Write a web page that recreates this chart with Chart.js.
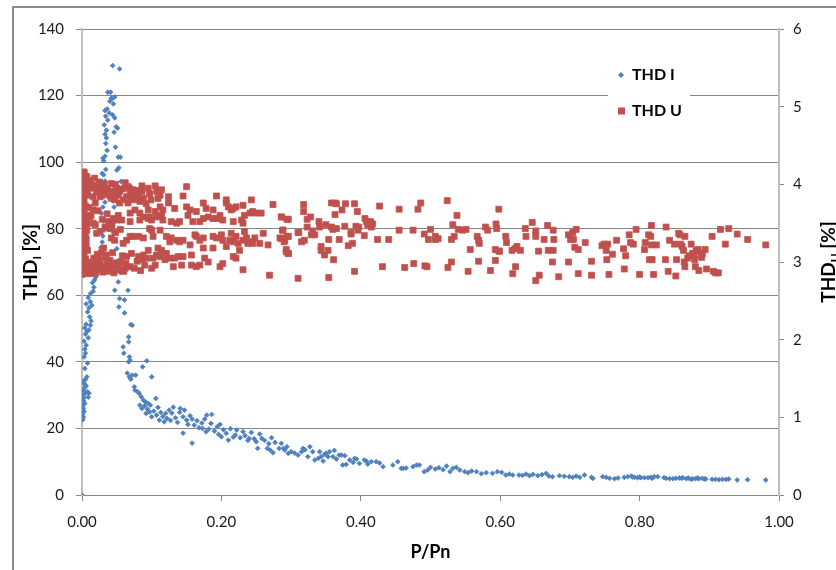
<!DOCTYPE html>
<html lang="en">
<head>
<meta charset="UTF-8">
<title>THD I / THD U vs P/Pn</title>
<script src="https://cdn.jsdelivr.net/npm/chart.js"></script>
<style>
  html, body { margin: 0; padding: 0; background: #fff; }
  #wrap { width: 836px; height: 570px; }
</style>
</head>
<body>
<div id="wrap"><canvas id="chart" width="836" height="570"></canvas></div>
<script>
// axis / legend text
const xTitle = 'P/Pn';
const seriesNames = ['THD I', 'THD U'];
const xTicks = [0, 0.2, 0.4, 0.6, 0.8, 1.0];

// THD I [%] (left axis) : [P/Pn, THD_I]
const thdI = [
  [0,0],
  [0.001,22.6],[0.002,23.4],[0.001,24.3],[0.003,25.1],[0.002,26.0],[0.001,26.8],[0.004,27.5],[0.002,28.3],[0.003,29.2],[0.001,30.1],
  [0.005,30.6],[0.002,31.4],[0.004,32.3],[0.006,32.8],[0.003,33.5],[0.002,34.3],[0.005,34.7],[0.008,31.0],[0.009,29.4],[0.007,35.5],
  [0.010,30.6],[0.004,38.0],[0.008,39.6],[0.003,41.5],[0.005,42.6],[0.004,43.8],[0.006,45.0],[0.003,46.2],[0.009,47.2],[0.005,48.3],
  [0.007,49.1],[0.004,50.2],[0.006,51.3],[0.010,49.6],[0.012,51.0],[0.013,52.3],[0.011,53.5],[0.008,55.0],[0.010,56.2],[0.006,57.4],
  [0.012,58.1],[0.014,57.0],[0.009,59.3],[0.016,61.2],[0.012,60.5],[0.015,63.8],[0.018,64.6],[0.017,62.4],[0.020,65.5],[0.019,67.6],
  [0.022,69.2],[0.024,70.5],[0.021,72.2],[0.026,72.8],[0.027,74.3],[0.029,76.0],[0.030,77.8],[0.032,79.6],[0.031,82.3],[0.028,84.6],
  [0.030,86.5],[0.033,88.0],[0.029,89.8],[0.032,91.2],[0.030,92.6],[0.033,94.3],[0.031,96.2],[0.034,97.8],[0.029,96.6],[0.031,100.4],
  [0.033,101.8],[0.030,101.2],[0.036,103.5],[0.034,105.6],[0.035,107.3],[0.033,108.4],[0.035,109.6],[0.032,111.2],[0.037,112.6],[0.034,113.8],
  [0.039,114.8],[0.033,115.5],[0.036,116.0],[0.040,118.3],[0.042,119.2],[0.037,121.0],[0.041,121.0],[0.044,129.0],[0.054,128.0],
  [0.043,119.0],[0.047,119.6],[0.045,117.5],[0.044,114.2],[0.047,113.3],[0.049,110.6],[0.051,110.2],[0.046,109.0],[0.048,104.5],[0.052,101.5],
  [0.055,101.5],[0.050,97.6],[0.053,98.3],[0.056,94.2],[0.045,93.3],[0.048,90.4],[0.046,86.5],[0.044,82.6],[0.045,78.8],[0.043,76.6],
  [0.050,74.0],[0.052,70.4],[0.055,66.8],
  [0.052,64.0],[0.047,61.5],[0.066,61.5],[0.054,59.0],[0.061,58.6],[0.053,56.5],[0.061,54.7],[0.072,51.0],[0.070,51.2],[0.067,47.5],
  [0.067,46.0],[0.059,44.5],[0.060,42.6],[0.068,41.5],[0.069,40.5],[0.067,40.0],[0.093,40.3],[0.087,38.5],[0.065,36.6],[0.068,35.5],
  [0.070,34.8],[0.072,36.0],[0.077,36.0],[0.100,35.5],[0.075,32.5],[0.076,31.5],[0.080,31.0],[0.082,30.5],[0.085,29.5],[0.088,28.5],
  [0.091,28.0],[0.095,27.5],[0.098,27.0],[0.083,27.0],[0.086,26.0],[0.090,26.8],[0.094,25.8],[0.097,24.9],[0.092,24.5],[0.100,23.5],
  [0.103,25.2],[0.106,29.0],[0.107,24.0],[0.109,26.3],[0.111,22.5],[0.113,24.8],[0.116,23.6],[0.118,22.0],[0.120,24.5],[0.122,23.0],
  [0.125,25.5],[0.127,22.4],[0.129,24.6],[0.131,26.4],[0.134,23.2],[0.137,21.8],[0.140,24.8],[0.141,26.0],[0.145,23.5],[0.145,18.6],
  [0.147,25.5],[0.150,22.5],[0.152,21.2],[0.155,23.8],[0.158,22.8],[0.158,15.6],[0.161,21.0],[0.165,22.3],[0.168,20.2],[0.172,21.6],
  [0.173,20.0],[0.176,22.8],[0.178,19.0],[0.179,24.0],[0.182,19.8],[0.185,21.5],[0.186,24.2],[0.190,19.2],[0.194,20.5],[0.196,18.2],
  [0.198,21.2],[0.200,17.5],[0.203,19.6],[0.207,18.5],[0.210,16.5],[0.213,19.9],[0.217,17.4],[0.220,18.0],[0.222,19.5],[0.227,17.2],
  [0.231,19.0],[0.234,17.8],[0.238,16.4],[0.240,17.0],[0.243,18.8],[0.247,16.9],[0.250,16.0],[0.252,14.0],[0.255,18.3],[0.258,17.0],
  [0.262,16.4],[0.266,14.0],[0.268,15.4],[0.272,17.2],[0.270,13.5],[0.274,12.7],[0.277,15.8],[0.283,14.0],[0.286,15.5],[0.289,14.0],
  [0.291,13.5],[0.294,14.5],[0.296,12.5],[0.300,13.0],[0.305,12.6],
  [0.310,12.0],[0.315,13.0],[0.317,14.0],[0.320,13.6],[0.324,11.5],[0.327,14.5],[0.331,13.0],[0.334,10.5],[0.339,11.0],[0.341,13.0],
  [0.343,11.5],[0.346,10.2],[0.348,12.2],[0.350,12.5],[0.353,11.5],[0.355,13.0],[0.360,11.5],[0.362,13.4],[0.365,10.8],[0.369,12.0],
  [0.372,12.0],[0.374,9.0],[0.377,11.8],[0.379,9.2],[0.384,10.5],[0.389,9.8],[0.391,11.0],[0.394,10.8],[0.398,9.5],[0.405,10.5],
  [0.408,10.2],[0.410,9.3],[0.415,10.0],[0.422,10.0],[0.427,9.6],[0.432,8.5],[0.446,9.0],[0.453,10.0],[0.458,8.0],[0.461,8.0],
  [0.465,8.1],[0.475,8.5],[0.480,9.0],[0.484,9.0],[0.491,7.0],[0.496,7.5],[0.500,8.3],[0.507,7.8],[0.512,8.2],[0.518,7.6],
  [0.523,8.7],[0.528,7.0],[0.532,8.0],[0.537,8.3],[0.542,7.5],[0.549,7.0],[0.554,6.7],[0.559,7.2],[0.566,7.0],[0.573,6.4],
  [0.580,6.7],[0.589,6.5],[0.596,7.0],[0.602,6.8],[0.608,6.0],[0.613,6.3],[0.618,6.0],[0.627,6.0],[0.632,5.9],[0.637,6.3],
  [0.642,5.8],[0.647,6.2],[0.654,5.8],[0.660,6.1],[0.666,6.5],[0.670,5.7],[0.675,5.5],[0.685,5.8],[0.692,5.6],[0.699,5.5],
  [0.704,5.3],[0.709,5.7],[0.714,5.3],[0.721,6.0],[0.731,5.3],[0.733,5.0],[0.747,5.5],[0.752,5.3],[0.757,5.0],[0.764,4.9],
  [0.769,5.1],[0.778,5.3],[0.783,5.5],[0.788,5.7],[0.790,5.4],[0.793,5.3],[0.797,5.2],[0.800,5.4],[0.802,5.2],[0.807,5.2],
  [0.812,5.2],[0.816,5.3],[0.818,5.0],[0.821,5.5],[0.826,5.5],[0.835,5.2],[0.838,5.0],[0.843,4.9],[0.848,4.9],[0.852,5.0],
  [0.857,5.1],[0.860,5.0],[0.862,5.2],[0.867,4.9],[0.870,5.1],[0.874,4.7],[0.876,4.9],[0.880,4.9],[0.883,5.1],[0.885,4.9],
  [0.890,5.0],[0.893,4.8],[0.895,4.8],[0.904,4.7],[0.909,4.7],[0.914,4.6],[0.919,4.7],[0.924,4.7],[0.928,4.8],[0.940,4.5],
  [0.955,4.6],[0.981,4.5]
];

// THD U [%] (right axis) : [P/Pn, THD_U]
const thdU = [
  [0.000,2.84],[0.002,2.87],[0.001,2.91],[0.004,2.93],[0.000,2.98],[0.003,3.01],[0.005,3.04],[0.001,3.07],[0.003,3.11],[0.000,3.14],
  [0.002,3.18],[0.006,3.21],[0.001,3.24],[0.004,3.27],[0.000,3.31],[0.002,3.34],[0.005,3.36],[0.001,3.40],[0.003,3.44],[0.000,3.47],
  [0.002,3.51],[0.006,3.54],[0.001,3.58],[0.004,3.61],[0.000,3.65],[0.002,3.69],[0.005,3.72],[0.001,3.76],[0.003,3.79],[0.000,3.83],
  [0.002,3.87],[0.006,3.90],[0.001,3.94],[0.003,3.97],[0.000,4.01],[0.002,4.05],[0.004,4.08],[0.001,4.12],[0.003,4.16],[0.007,2.88],
  [0.008,3.15],[0.007,3.49],[0.008,3.86],[0.009,4.02],[0.006,3.29],[0.009,2.95],[0.010,3.70],[0.005,2.85],[0.004,3.95],[0.007,4.10],
  [0.003,4.14],[0.004,4.01],[0.007,3.88],[0.011,3.97],[0.019,3.99],[0.023,3.97],[0.028,3.91],[0.016,3.84],[0.026,3.84],[0.035,3.88],
  [0.042,4.01],[0.045,3.91],[0.050,3.95],[0.054,3.91],[0.042,3.82],[0.047,3.80],[0.054,3.76],[0.059,3.80],[0.064,3.84],[0.069,3.88],
  [0.066,3.76],[0.071,3.84],[0.066,3.97],[0.073,3.93],[0.078,3.88],[0.081,3.84],[0.086,3.98],[0.083,3.78],[0.086,3.91],[0.095,3.95],
  [0.097,3.88],[0.105,3.98],[0.107,3.91],[0.112,3.86],[0.114,3.93],[0.109,3.82],[0.124,3.84],[0.124,3.76],[0.133,3.69],[0.116,3.67],
  [0.105,3.65],[0.095,3.67],[0.076,3.67],[0.069,3.63],[0.083,3.63],[0.088,3.58],[0.095,3.56],[0.100,3.54],[0.112,3.71],[0.150,3.97],
  [0.145,3.85],[0.150,3.71],[0.155,3.67],[0.152,3.60],[0.164,3.65],[0.174,3.76],[0.178,3.69],[0.181,3.58],[0.188,3.67],[0.193,3.85],
  [0.198,3.60],[0.193,3.56],[0.207,3.76],[0.210,3.71],[0.207,3.80],[0.214,3.67],[0.217,3.69],[0.221,3.71],[0.231,3.73],[0.233,3.60],
  [0.241,3.63],[0.245,3.65],[0.243,3.80],[0.250,3.63],[0.257,3.63],[0.274,3.74],[0.286,3.58],[0.296,3.55],[0.229,3.54],[0.231,3.50],
  [0.217,3.52],[0.202,3.54],[0.188,3.56],[0.174,3.56],[0.169,3.52],[0.159,3.52],[0.140,3.52],[0.136,3.50],[0.128,3.52],[0.116,3.54],
  [0.114,3.60],[0.107,3.58],[0.097,3.58],[0.083,3.54],[0.069,3.52],[0.057,3.54],[0.050,3.54],[0.045,3.56],[0.038,3.52],[0.019,3.76],
  [0.016,3.67],[0.011,3.58],[0.016,3.50],[0.007,3.41],[0.021,3.37],[0.026,3.39],[0.040,3.43],[0.042,3.31],[0.047,3.28],[0.059,3.24],
  [0.064,3.28],[0.069,3.33],[0.073,3.33],[0.081,3.33],[0.088,3.31],[0.097,3.43],[0.100,3.41],[0.102,3.33],[0.112,3.41],[0.109,3.18],
  [0.114,3.15],[0.121,3.33],[0.126,3.26],[0.128,3.31],[0.136,3.28],[0.140,3.26],[0.145,3.28],[0.155,3.22],[0.162,3.35],[0.164,3.33],
  [0.169,3.28],[0.174,3.31],[0.174,3.18],[0.188,3.33],[0.188,3.18],[0.193,3.31],[0.200,3.35],[0.202,3.28],[0.207,3.20],[0.212,3.28],
  [0.214,3.37],[0.217,3.26],[0.221,3.33],[0.224,3.24],[0.226,3.15],[0.231,3.28],[0.233,3.39],[0.236,3.31],[0.238,3.24],[0.241,3.26],
  [0.245,3.24],[0.248,3.31],[0.255,3.24],[0.260,3.37],[0.267,3.22],[0.284,3.31],[0.288,3.41],[0.291,3.28],[0.296,3.33],[0.293,3.13],
  [0.296,3.11],[0.310,3.38],
  [0.031,3.18],[0.035,3.09],[0.026,3.03],[0.011,2.94],[0.021,2.98],[0.031,2.90],[0.040,2.94],[0.045,2.96],[0.052,2.94],[0.064,3.07],
  [0.069,2.94],[0.071,3.11],[0.081,3.07],[0.086,3.03],[0.088,3.09],[0.095,3.15],[0.093,3.05],[0.102,3.05],[0.107,3.09],[0.112,3.07],
  [0.119,3.03],[0.121,3.11],[0.126,3.05],[0.133,3.05],[0.138,3.07],[0.145,3.07],[0.157,3.09],[0.157,2.96],[0.164,2.94],[0.169,2.96],
  [0.176,3.05],[0.181,3.00],[0.198,2.94],[0.202,2.98],[0.217,3.07],[0.221,3.05],[0.231,2.90],[0.269,2.83],[0.100,2.92],[0.105,2.96],
  [0.131,2.94],[0.143,2.96],[0.054,2.90],[0.062,2.92],
  [0.012,2.85],[0.015,2.88],[0.018,2.92],[0.020,2.86],[0.024,2.90],[0.027,2.95],[0.030,2.87],[0.033,2.92],[0.036,2.98],[0.038,2.88],
  [0.042,2.91],[0.046,2.86],[0.049,2.99],[0.013,3.00],[0.017,3.05],[0.022,3.10],[0.028,3.12],[0.034,3.06],[0.040,3.02],[0.044,3.12],
  [0.056,3.00],[0.060,2.88],[0.058,3.08],[0.063,2.98],[0.075,2.92],[0.079,3.01],[0.084,2.89],[0.090,2.96],
  [0.012,4.05],[0.014,3.95],[0.018,4.08],[0.021,3.90],[0.025,4.03],[0.029,3.86],[0.032,4.00],[0.037,3.94],[0.040,3.85],[0.048,4.00],
  [0.052,3.86],[0.058,3.94],[0.062,4.02],[0.068,3.95],[0.074,3.80],[0.080,3.92],[0.088,3.82],[0.092,3.75],[0.099,3.80],
  [0.013,3.60],[0.019,3.48],[0.023,3.66],[0.029,3.55],[0.033,3.45],[0.036,3.62],[0.043,3.47],[0.048,3.38],[0.052,3.60],[0.055,3.42],
  [0.286,3.58],[0.294,3.55],[0.288,3.41],[0.286,3.30],[0.290,3.26],[0.294,3.33],[0.293,3.16],[0.296,3.11],[0.310,2.79],[0.311,3.38],
  [0.315,3.26],[0.318,3.65],[0.318,3.74],[0.319,3.28],[0.323,3.55],[0.323,3.45],[0.328,3.58],[0.329,3.35],[0.331,3.40],[0.334,3.35],
  [0.340,3.52],[0.341,3.45],[0.343,3.20],[0.343,3.15],[0.348,3.09],[0.350,3.48],[0.353,3.15],[0.354,3.29],[0.354,2.80],[0.358,3.45],
  [0.358,3.76],[0.363,3.76],[0.365,3.75],[0.363,3.61],[0.360,3.42],[0.361,3.03],[0.365,3.43],[0.369,3.29],[0.373,3.67],[0.377,3.46],
  [0.378,3.75],[0.382,3.21],[0.386,3.36],[0.386,3.38],[0.388,3.24],[0.391,3.75],[0.391,2.88],[0.393,3.46],[0.395,3.65],[0.396,3.41],
  [0.397,3.45],[0.405,3.34],[0.406,3.56],[0.408,3.52],[0.410,3.48],[0.414,3.52],[0.415,3.45],[0.417,3.49],[0.424,3.29],[0.427,3.72],
  [0.431,2.94],[0.440,3.29],[0.455,3.68],[0.455,3.41],[0.463,2.93],[0.475,3.41],[0.476,2.98],[0.482,3.68],[0.486,3.76],[0.491,3.36],
  [0.492,2.95],[0.495,2.94],[0.497,3.29],[0.500,3.42],[0.507,3.33],[0.507,3.29],[0.511,3.30],[0.524,3.79],[0.525,2.93],[0.530,3.29],
  [0.530,3.00],[0.532,3.48],[0.534,3.33],[0.538,3.60],[0.540,3.42],[0.546,3.41],[0.551,3.42],[0.554,2.88],[0.557,3.16],[0.567,3.33],
  [0.569,3.28],[0.569,3.01],[0.570,3.24],[0.579,3.45],[0.582,3.41],[0.586,2.89],[0.593,3.16],[0.593,3.02],[0.594,3.49],[0.595,3.43],
  [0.598,3.68],[0.598,3.14],[0.599,3.14],[0.608,3.33],[0.609,3.25],[0.617,3.15],[0.618,2.85],[0.621,3.17],[0.622,2.94],[0.624,3.20],
  [0.629,3.15],[0.636,3.43],[0.637,3.33],[0.646,3.51],[0.651,3.40],[0.651,3.33],[0.651,2.76],[0.655,3.14],[0.656,2.83],[0.663,3.29],
  [0.668,3.47],[0.669,3.15],[0.675,3.00],[0.676,3.41],[0.676,3.15],[0.677,3.29],[0.684,2.81],[0.698,3.00],[0.698,3.35],[0.701,3.29],
  [0.704,3.38],[0.705,3.29],[0.707,3.19],[0.709,3.42],[0.712,3.16],[0.712,2.85],
  [0.722,3.25],[0.731,3.01],[0.731,2.83],[0.746,3.21],[0.749,3.23],[0.752,3.15],[0.753,3.03],[0.754,3.23],[0.756,2.84],[0.761,3.10],
  [0.767,3.28],[0.777,3.17],[0.778,2.91],[0.780,3.08],[0.785,3.35],[0.787,3.25],[0.791,3.23],[0.795,3.42],[0.800,2.84],[0.807,3.16],
  [0.808,3.25],[0.813,3.35],[0.814,3.03],[0.816,3.33],[0.817,3.47],[0.817,3.22],[0.818,3.03],[0.820,2.84],[0.824,3.22],[0.837,3.03],
  [0.838,3.45],[0.841,2.88],[0.843,3.28],[0.850,3.23],[0.852,2.82],[0.853,3.03],[0.856,3.37],[0.858,3.35],[0.859,3.23],[0.861,3.20],
  [0.863,3.15],[0.864,3.00],[0.865,3.33],[0.865,2.94],[0.869,3.05],[0.871,3.08],[0.874,3.23],[0.876,3.11],[0.878,3.10],[0.879,3.03],
  [0.880,2.94],[0.881,3.15],[0.884,3.16],[0.885,2.89],[0.888,3.09],[0.889,3.06],[0.890,3.11],[0.894,3.16],[0.896,2.91],[0.904,3.33],
  [0.906,2.88],[0.909,2.86],[0.913,2.86],[0.916,3.42],[0.923,3.23],[0.928,3.43],[0.940,3.36],[0.955,3.29],[0.981,3.22]
];

const blue = '#4F81BD';
const red = '#C0504D';
const gridGray = '#868686';
const axisGray = '#BFBFBF';
const FONT = 'Lato, "Open Sans", sans-serif';

Chart.defaults.font.family = FONT;
Chart.defaults.font.size = 15;
Chart.defaults.color = '#1a1a1a';

function toXY(arr) {
  return arr.map(p => ({ x: p[0], y: p[1] }));
}

// rotated title with a subscript, e.g. THD_I [%]
function rotatedTitle(ctx, cx, cy, main, sub, rest) {
  ctx.save();
  ctx.translate(cx, cy);
  ctx.rotate(-Math.PI / 2);
  ctx.fillStyle = '#000';
  ctx.textBaseline = 'alphabetic';
  const big = 'bold 19px ' + FONT, small = 'bold 12px ' + FONT;
  ctx.font = big;
  const w1 = ctx.measureText(main).width, w3 = ctx.measureText(rest).width;
  ctx.font = small;
  const w2 = ctx.measureText(sub).width;
  let x = -(w1 + w2 + w3) / 2;
  const base = 7;
  ctx.font = big; ctx.fillText(main, x, base); x += w1;
  ctx.font = small; ctx.fillText(sub, x, base + 4); x += w2;
  ctx.font = big; ctx.fillText(rest, x, base);
  ctx.restore();
}

const decor = {
  id: 'decor',
  beforeDraw(chart) {
    const ctx = chart.ctx;
    ctx.save();
    ctx.fillStyle = '#fff';
    ctx.fillRect(0, 0, chart.width, chart.height);
    ctx.restore();
  },
  afterDraw(chart) {
    const ctx = chart.ctx;
    ctx.save();
    // outer chart frame
    ctx.strokeStyle = '#8c8c8c';
    ctx.lineWidth = 2;
    ctx.beginPath();
    ctx.moveTo(13, 570); ctx.lineTo(13, 7); ctx.lineTo(836, 7);
    ctx.stroke();

    // axis titles
    rotatedTitle(ctx, 30, 262, 'THD', 'I', ' [%]');
    rotatedTitle(ctx, 828, 262, 'THD', 'U', ' [%]');
    ctx.font = 'bold 18px ' + FONT;
    ctx.fillStyle = '#000';
    ctx.textAlign = 'center';
    ctx.textBaseline = 'middle';
    ctx.fillText(xTitle, (chart.chartArea.left + chart.chartArea.right) / 2, 552);

    // legend box inside plot
    ctx.fillStyle = '#fff';
    ctx.fillRect(608, 58, 82, 70);
    ctx.font = 'bold 16px ' + FONT;
    ctx.textAlign = 'left';
    ctx.fillStyle = '#000';
    const ds = chart.data.datasets;
    // diamond
    ctx.fillStyle = ds[0].backgroundColor;
    ctx.beginPath();
    ctx.moveTo(621, 72); ctx.lineTo(624, 75); ctx.lineTo(621, 78); ctx.lineTo(618, 75);
    ctx.closePath(); ctx.fill();
    // square
    ctx.fillStyle = ds[1].backgroundColor;
    ctx.fillRect(618, 107.5, 7, 7);
    ctx.fillStyle = '#000';
    ctx.fillText(ds[0].label, 632, 75);
    ctx.fillText(ds[1].label, 632, 111);
    ctx.restore();
  }
};

new Chart(document.getElementById('chart'), {
  type: 'scatter',
  data: {
    datasets: [
      {
        label: seriesNames[0],
        data: toXY(thdI),
        yAxisID: 'y',
        pointStyle: 'rectRot',
        pointRadius: 2.4,
        borderWidth: 0.8,
        backgroundColor: blue,
        borderColor: blue,
        order: 2
      },
      {
        label: seriesNames[1],
        data: toXY(thdU),
        yAxisID: 'y2',
        pointStyle: 'rect',
        pointRadius: 4.2,
        borderWidth: 0.8,
        backgroundColor: red,
        borderColor: red,
        order: 1
      }
    ]
  },
  plugins: [decor],
  options: {
    responsive: false,
    animation: false,
    events: [],
    layout: { padding: { top: 29, left: 0, right: 0, bottom: 0 } },
    plugins: {
      legend: { display: false },
      tooltip: { enabled: false }
    },
    scales: {
      x: {
        type: 'linear',
        min: 0,
        max: 1,
        afterBuildTicks: s => { s.ticks = xTicks.map(v => ({ value: v })); },
        ticks: { callback: v => Number(v).toFixed(2), padding: 12, maxRotation: 0, autoSkip: false },
        grid: { drawOnChartArea: false, tickLength: 6, color: gridGray, tickColor: gridGray },
        border: { color: gridGray, width: 1 },
        afterFit: s => { s.height = 75; }
      },
      y: {
        position: 'left',
        min: 0,
        max: 140,
        ticks: { stepSize: 20, padding: 12 },
        grid: { color: gridGray, tickColor: gridGray, tickLength: 6 },
        border: { color: axisGray, width: 2 },
        afterFit: s => { s.width = 82; }
      },
      y2: {
        position: 'right',
        min: 0,
        max: 6,
        ticks: { stepSize: 1, padding: 9 },
        grid: { drawOnChartArea: false, tickColor: gridGray, tickLength: 5 },
        border: { color: axisGray, width: 2 },
        afterFit: s => { s.width = 57; }
      }
    }
  }
});
</script>
</body>
</html>
